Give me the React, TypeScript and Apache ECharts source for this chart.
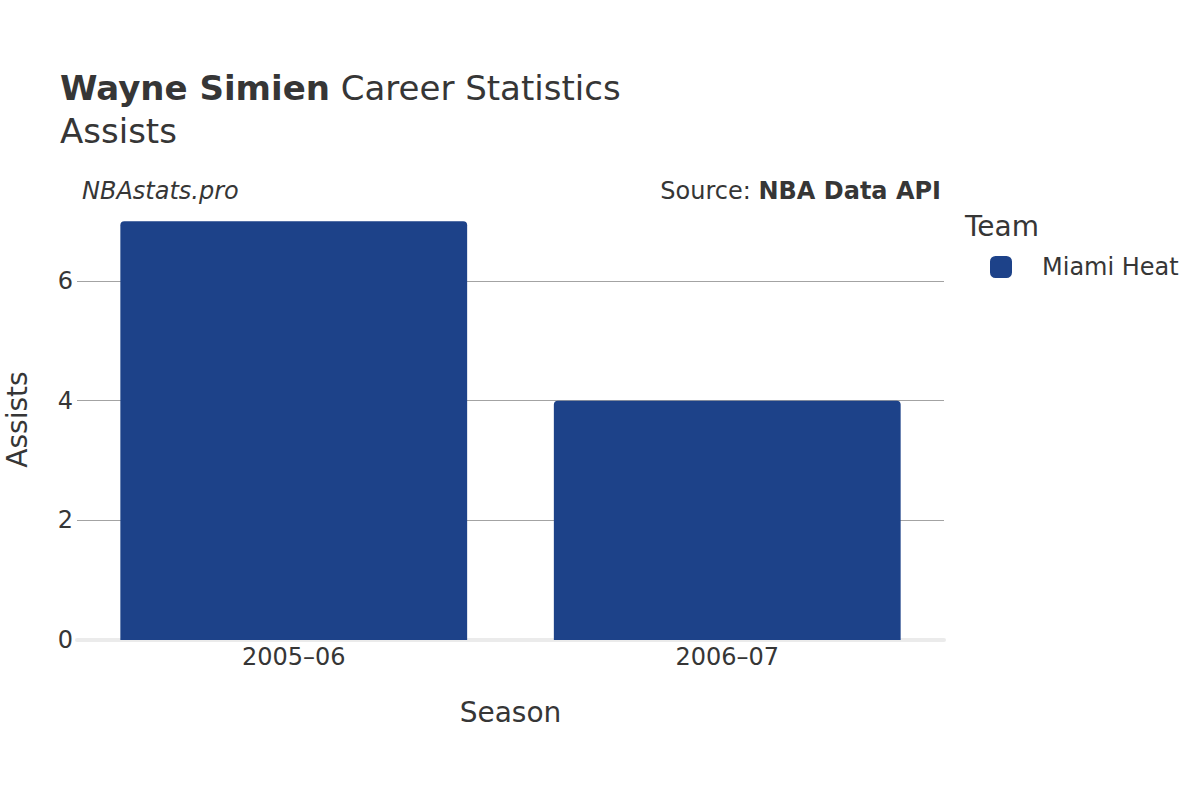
import React, { useEffect, useRef } from "react";
import * as echarts from "echarts";

const seasons = ["2005–06", "2006–07"];
const assists = [7, 4];
const teamName = "Miami Heat";
const yTicks = [0, 2, 4, 6];

const FONT = "DejaVu Sans";
const TXT = "#363636";

export default function App() {
  const ref = useRef<HTMLDivElement>(null);
  useEffect(() => {
    if (!ref.current) return;
    const chart = echarts.init(ref.current, undefined, { renderer: "svg" });
    chart.setOption({
      animation: false,
      backgroundColor: "#ffffff",
      textStyle: { fontFamily: FONT },
      grid: { left: 77, right: 256, top: 199, bottom: 160, containLabel: false, outerBoundsMode: "none" },
      graphic: [
        {
          type: "text",
          left: 60,
          top: 71,
          style: {
            text: "{b|Wayne Simien}{n| Career Statistics}",
            rich: {
              b: { fontFamily: FONT, fontSize: 34, fontWeight: "bold", fill: TXT },
              n: { fontFamily: FONT, fontSize: 34, fill: TXT },
            },
          },
        },
        {
          type: "text",
          left: 60,
          top: 114,
          style: { text: "Assists", fontFamily: FONT, fontSize: 34, fill: TXT },
        },
        {
          type: "text",
          left: 82,
          top: 179,
          style: { text: "NBAstats.pro", fontFamily: FONT, fontSize: 24, fontStyle: "italic", fill: TXT },
        },
        {
          type: "text",
          right: 259,
          top: 179,
          style: {
            text: "{n|Source: }{b|NBA Data API}",
            rich: {
              n: { fontFamily: FONT, fontSize: 24, fill: TXT },
              b: { fontFamily: FONT, fontSize: 24, fontWeight: "bold", fill: TXT },
            },
          },
        },
        {
          type: "text",
          left: 965,
          top: 212,
          style: { text: "Team", fontFamily: FONT, fontSize: 28, fill: TXT },
        },
      ],
      legend: {
        left: 985,
        top: 250,
        orient: "vertical",
        itemWidth: 22,
        itemHeight: 22,
        icon: "roundRect",
        data: [teamName],
        textStyle: { fontFamily: FONT, fontSize: 24, color: TXT, padding: [0, 0, 0, 25] },
      },
      xAxis: {
        type: "category",
        data: seasons,
        name: "Season",
        nameLocation: "middle",
        nameGap: 58,
        nameTextStyle: { fontFamily: FONT, fontSize: 28, color: TXT },
        axisLine: { show: true, lineStyle: { color: "#ebebeb", width: 4 } },
        axisTick: { show: false },
        axisLabel: { fontFamily: FONT, fontSize: 24, color: TXT, margin: 5 },
      },
      yAxis: {
        type: "value",
        min: 0,
        max: 7.37,
        interval: 2,
        name: "Assists",
        nameLocation: "middle",
        nameGap: 46,
        nameTextStyle: { fontFamily: FONT, fontSize: 28, color: TXT },
        axisLine: { show: false },
        axisTick: { show: false },
        axisLabel: {
          fontFamily: FONT,
          fontSize: 24,
          color: TXT,
          margin: 4,
          showMaxLabel: false,
          formatter: (v: number) => (yTicks.includes(v) ? String(v) : ""),
        },
        splitLine: { show: true, showMaxLine: false, showMinLine: false, lineStyle: { color: "#a3a3a3", width: 1 } },
      },
      series: [
        {
          name: teamName,
          type: "bar",
          data: assists,
          barCategoryGap: "20%",
          itemStyle: { color: "#1d4289", borderRadius: [4, 4, 0, 0] },
        },
      ],
    });
    return () => chart.dispose();
  }, []);
  return <div ref={ref} style={{ width: 1200, height: 800, position: "absolute", left: 0, top: 0 }} />;
}
